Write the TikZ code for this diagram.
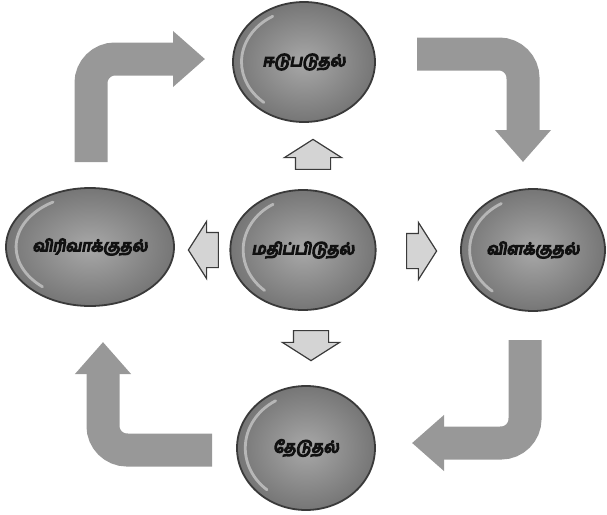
\documentclass[tikz,border=0pt]{standalone}
\usepackage{fontspec}
\newfontfamily\tamilfont[Script=Tamil,FakeSlant=0.18]{Hind Madurai}
\usetikzlibrary{arrows.meta,shapes.geometric,shapes.arrows}
\definecolor{ballgray}{HTML}{A8A8A8}
\definecolor{balldark}{HTML}{767676}
\definecolor{rimdark}{HTML}{3A3A3A}
\definecolor{loopgray}{HTML}{989898}
\definecolor{pointerfill}{HTML}{D4D4D4}
\definecolor{textdark}{HTML}{111111}
\newcommand{\heavytext}[1]{\special{pdf:literal direct 2 Tr 0.7 w}#1\special{pdf:literal direct 0 Tr}}
\tikzset{
  phase/.style 2 args={
    ellipse, draw=rimdark, line width=0.9pt, inner sep=0pt,
    inner color=ballgray, outer color=balldark,
    minimum width=#1, minimum height=#2,
    font=\tamilfont\fontsize{8}{8}\selectfont, text=textdark,
    path picture={
      \draw[white, opacity=0.45, line width=1.4pt, line cap=round]
        (path picture bounding box.center) ++(120:{0.44*#1} and {0.44*#2})
        arc[start angle=120, end angle=230, x radius=0.44*#1, y radius=0.44*#2];
    }
  },
  loop/.style={draw=loopgray, line width=16.5pt, rounded corners=12pt,
    -{Triangle[width=27pt,length=16pt]}},
  pointer/.style={single arrow, draw=rimdark, fill=pointerfill, line width=0.6pt,
    inner xsep=0pt, inner ysep=8.5pt, minimum height=15pt,
    single arrow head extend=5.5pt, single arrow tip angle=115}
}

\begin{document}
\begin{tikzpicture}[x=0.5pt,y=-0.5pt]
\useasboundingbox (0,0) rectangle (607,515);
% phases
\node[phase={71pt}{60pt}] (engage) at (304,62) {\heavytext{ஈடுபடுதல்}};
\node[phase={84pt}{59pt}] (elaborate) at (90,247) {\heavytext{விரிவாக்குதல்}};
\node[phase={68pt}{60pt}] (evaluate) at (303,250) {\heavytext{மதிப்பிடுதல்}};
\node[phase={72pt}{61pt}] (explain) at (533,250) {\heavytext{விளக்குதல்}};
\node[phase={69pt}{62pt}] (explore) at (306,448) {\heavytext{தேடுதல்}};
% small pointers out of the centre
\node[pointer, rotate=90] (p-up) at (313,160) {};
\node[pointer, rotate=-90] (p-down) at (311,340) {};
\node[pointer, rotate=180] (p-left) at (209,250) {};
\node[pointer] (p-right) at (416,251) {};
% cycle
\coordinate (tl-a) at (91,162);  \coordinate (tl-b) at (205,59);
\coordinate (tr-a) at (417,54);  \coordinate (tr-b) at (523,162);
\coordinate (br-a) at (525,340); \coordinate (br-b) at (412,443);
\coordinate (bl-a) at (212,450); \coordinate (bl-b) at (103,342);
\draw[loop] (tl-a) |- (tl-b);
\draw[loop] (tr-a) -| (tr-b);
\draw[loop] (br-a) |- (br-b);
\draw[loop] (bl-a) -| (bl-b);
\end{tikzpicture}
\end{document}
